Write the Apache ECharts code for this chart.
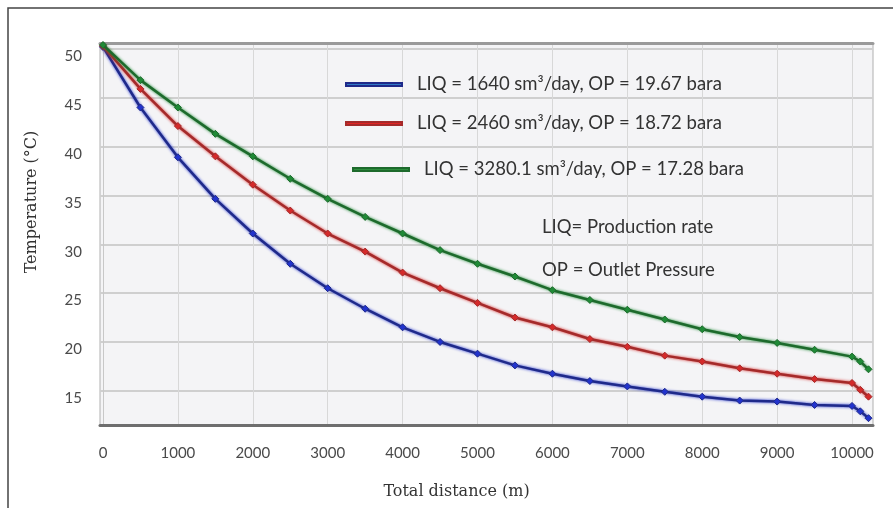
<!DOCTYPE html>
<html>
<head>
<meta charset="utf-8">
<script src="https://cdn.jsdelivr.net/npm/echarts@6/dist/echarts.min.js"></script>
<style>html,body{margin:0;padding:0;background:#fff}#c{width:893px;height:508px}</style>
</head>
<body>
<div id="c"></div>
<script>
const distances = [0,500,1000,1500,2000,2500,3000,3500,4000,4500,5000,5500,6000,6500,7000,7500,8000,8500,9000,9500,10000,10110,10220];
const tempLiq1640 = [50.2,44.0,38.9,34.65,31.1,28.0,25.5,23.4,21.5,20.0,18.8,17.6,16.75,16.0,15.45,14.9,14.4,14.0,13.9,13.55,13.45,12.9,12.2];
const tempLiq2460 = [50.3,45.9,42.1,39.0,36.1,33.45,31.1,29.25,27.1,25.5,24.0,22.5,21.5,20.3,19.5,18.6,18.0,17.3,16.75,16.2,15.8,15.1,14.4];
const tempLiq3280 = [50.4,46.8,44.0,41.3,39.0,36.7,34.65,32.8,31.1,29.4,28.0,26.7,25.3,24.3,23.3,22.3,21.3,20.5,19.9,19.2,18.5,18.0,17.2];
const seriesNames = [
  'LIQ = 1640 sm³/day, OP = 19.67 bara',
  'LIQ = 2460 sm³/day, OP = 18.72 bara',
  'LIQ = 3280.1 sm³/day, OP = 17.28 bara'
];
const xTicks = [0,1000,2000,3000,4000,5000,6000,7000,8000,9000,10000];
const yTicks = [15,20,25,30,35,40,45,50];
const notes = ['LIQ= Production rate', 'OP = Outlet Pressure'];

const lineColors = ['#1f2a8a', '#a52a2a', '#1d6a2c'];
const markerColors = ['#2233cc', '#d42a2a', '#1f8a36'];
const legendColors = ['#2f78c4', '#e02424', '#2e8f3e'];
const seriesData = [tempLiq1640, tempLiq2460, tempLiq3280];

const chart = echarts.init(document.getElementById('c'), null, {renderer: 'canvas'});
const tickFont = 'Lato';
const legendCenters = [86, 125, 171];
const legendLefts = [345, 345, 352];
const legendFont = 18.5;

chart.setOption({
  animation: false,
  backgroundColor: '#fff',
  graphic: [{
    type: 'rect', shape: {x: 8, y: 8, width: 900, height: 520},
    style: {fill: 'none', stroke: '#444', lineWidth: 1.5}, z: -10
  }],
  title: notes.map((t, i) => ({
    text: t, left: 542, top: i === 0 ? 218 : 261, padding: 0,
    textStyle: {fontFamily: tickFont, fontSize: legendFont, fontWeight: 'normal', color: '#333'}
  })),
  legend: seriesNames.map((n, i) => ({
    data: [{name: n, itemStyle: {color: legendColors[i]}}],
    left: legendLefts[i], top: legendCenters[i] - 11, padding: 0,
    icon: 'rect', itemWidth: 56, itemHeight: 3,
    textStyle: {fontFamily: tickFont, fontSize: legendFont, color: '#333', padding: [0, 0, 0, 10]},
    selectedMode: false
  })),
  grid: {
    left: 100, top: 43, right: 20, bottom: 83,
    show: true, backgroundColor: '#f4f4f6', borderColor: '#b0b0b0', borderWidth: 1
  },
  xAxis: [{
    type: 'value', min: -40, max: 10280,
    name: 'Total distance (m)', nameLocation: 'middle', nameGap: 59,
    nameTextStyle: {fontFamily: 'DejaVu Serif', fontSize: 16, color: '#333', padding: [0, 60, 0, 0]},
    axisLine: {show: true, onZero: false, lineStyle: {color: '#6e6e6e', width: 3}},
    axisTick: {show: false, customValues: xTicks},
    axisLabel: {customValues: xTicks, margin: 21, fontFamily: tickFont, fontSize: 15, color: '#4a4a4a',
      formatter: v => String(v)},
    splitLine: {show: true, lineStyle: {color: '#d8d8d8', width: 1}}
  }, {
    type: 'value', position: 'top', min: -40, max: 10280,
    axisLine: {show: true, onZero: false, lineStyle: {color: '#9a9a9a', width: 3}},
    axisTick: {show: false}, axisLabel: {show: false}, splitLine: {show: false}
  }],
  yAxis: {
    type: 'value', min: 11.5, max: 50.6,
    name: 'Temperature (°C)', nameLocation: 'middle', nameGap: 60,
    nameTextStyle: {fontFamily: 'DejaVu Serif', fontSize: 16, color: '#333', padding: [0, 0, 0, 64]},
    axisLine: {show: true, lineStyle: {color: '#c8c8c8', width: 1}},
    axisTick: {show: false, customValues: yTicks},
    axisLabel: {customValues: yTicks, margin: 18, fontFamily: tickFont, fontSize: 15, color: '#4a4a4a', verticalAlign: 'top'},
    splitLine: {show: true, lineStyle: {color: '#cfcfcf', width: 2}}
  },
  series: seriesNames.map((n, i) => ({
    name: n, type: 'line', xAxisIndex: 0,
    data: distances.map((d, k) => [d, seriesData[i][k]]),
    symbol: 'diamond', symbolSize: 7,
    lineStyle: {color: lineColors[i], width: 2.5,
      shadowColor: markerColors[i], shadowBlur: 3},
    itemStyle: {color: markerColors[i], borderColor: lineColors[i], borderWidth: 1},
    z: 3 + i
  }))
});
</script>
</body>
</html>
